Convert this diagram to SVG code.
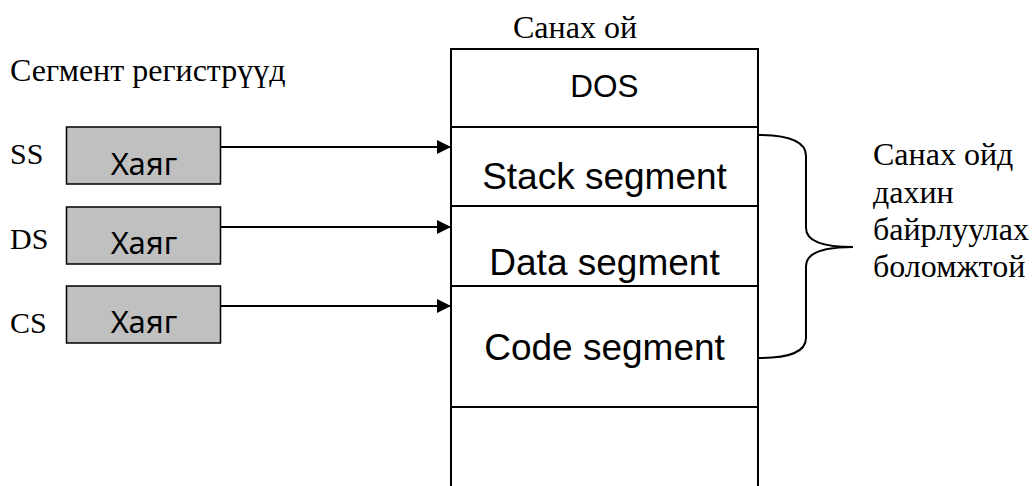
<svg xmlns="http://www.w3.org/2000/svg" width="1032" height="486" viewBox="0 0 1032 486">
  <style>
    .serif { font-family: "Liberation Serif", "Times New Roman", serif; font-size: 32px; fill: #000; }
    .lbl { font-family: "Liberation Serif", "Times New Roman", serif; font-size: 30px; fill: #000; }
    .seg { font-family: "Liberation Sans", Arial, sans-serif; font-size: 37px; fill: #000; text-anchor: middle; }
    .reg { fill: #c0c0c0; stroke: #000; stroke-width: 1.5; }
    .regtxt { font-family: "Noto Sans", "Open Sans", sans-serif; font-size: 31px; fill: #000; text-anchor: middle; }
    .mem { fill: none; stroke: #000; stroke-width: 2; }
    .link { stroke: #000; stroke-width: 2; fill: none; marker-end: url(#head); }
  </style>
  <defs>
    <marker id="head" viewBox="0 0 14 14" refX="14" refY="7" markerWidth="14" markerHeight="14" markerUnits="userSpaceOnUse" orient="auto">
      <path d="M0,0 L14,7 L0,14 Z" fill="#000"/>
    </marker>
  </defs>
  <rect width="1032" height="486" fill="#fff"/>

  <text class="serif" x="10" y="81">Сегмент регистрүүд</text>

  <!-- memory map -->
  <g id="memory">
    <text class="serif" x="513" y="38">Санах ой</text>
    <path class="mem" d="M451,490 L451,49 L758,49 L758,490"/>
    <line class="mem" x1="451" y1="127" x2="758" y2="127"/>
    <line class="mem" x1="451" y1="206" x2="758" y2="206"/>
    <line class="mem" x1="451" y1="286" x2="758" y2="286"/>
    <line class="mem" x1="451" y1="407" x2="758" y2="407"/>
  </g>
  <g id="dos"><text class="seg" x="604.5" y="97" style="font-size:31.5px">DOS</text></g>
  <g id="stack"><text class="seg" x="604.5" y="189">Stack segment</text></g>
  <g id="data"><text class="seg" x="604.5" y="275">Data segment</text></g>
  <g id="code"><text class="seg" x="604.5" y="360">Code segment</text></g>

  <!-- segment registers -->
  <g id="ss">
    <text class="lbl" x="10" y="164">SS</text>
    <rect class="reg" x="66.5" y="127" width="154" height="57"/>
    <text class="regtxt" x="144" y="175">Хаяг</text>
  </g>
  <g id="ds">
    <text class="lbl" x="10" y="249">DS</text>
    <rect class="reg" x="66.5" y="207" width="154" height="57"/>
    <text class="regtxt" x="144" y="254">Хаяг</text>
  </g>
  <g id="cs">
    <text class="lbl" x="10" y="333">CS</text>
    <rect class="reg" x="66.5" y="286" width="154" height="57"/>
    <text class="regtxt" x="144" y="333">Хаяг</text>
  </g>

  <g id="connectors">
    <line class="link" x1="221" y1="147" x2="451" y2="147"/>
    <line class="link" x1="221" y1="227" x2="451" y2="227"/>
    <line class="link" x1="221" y1="306" x2="451" y2="306"/>
  </g>

  <!-- relocatable brace -->
  <g id="brace">
    <path class="mem" d="M758,135 C790,135 806,142 806,156 L806,228 C806,240 820,247 853,247 C820,247 806,254 806,266 L806,338 C806,352 790,358 758,358"/>
    <text class="serif" x="873" y="165">Санах ойд</text>
    <text class="serif" x="873" y="203">дахин</text>
    <text class="serif" x="873" y="240">байрлуулах</text>
    <text class="serif" x="873" y="277">боломжтой</text>
  </g>
</svg>
